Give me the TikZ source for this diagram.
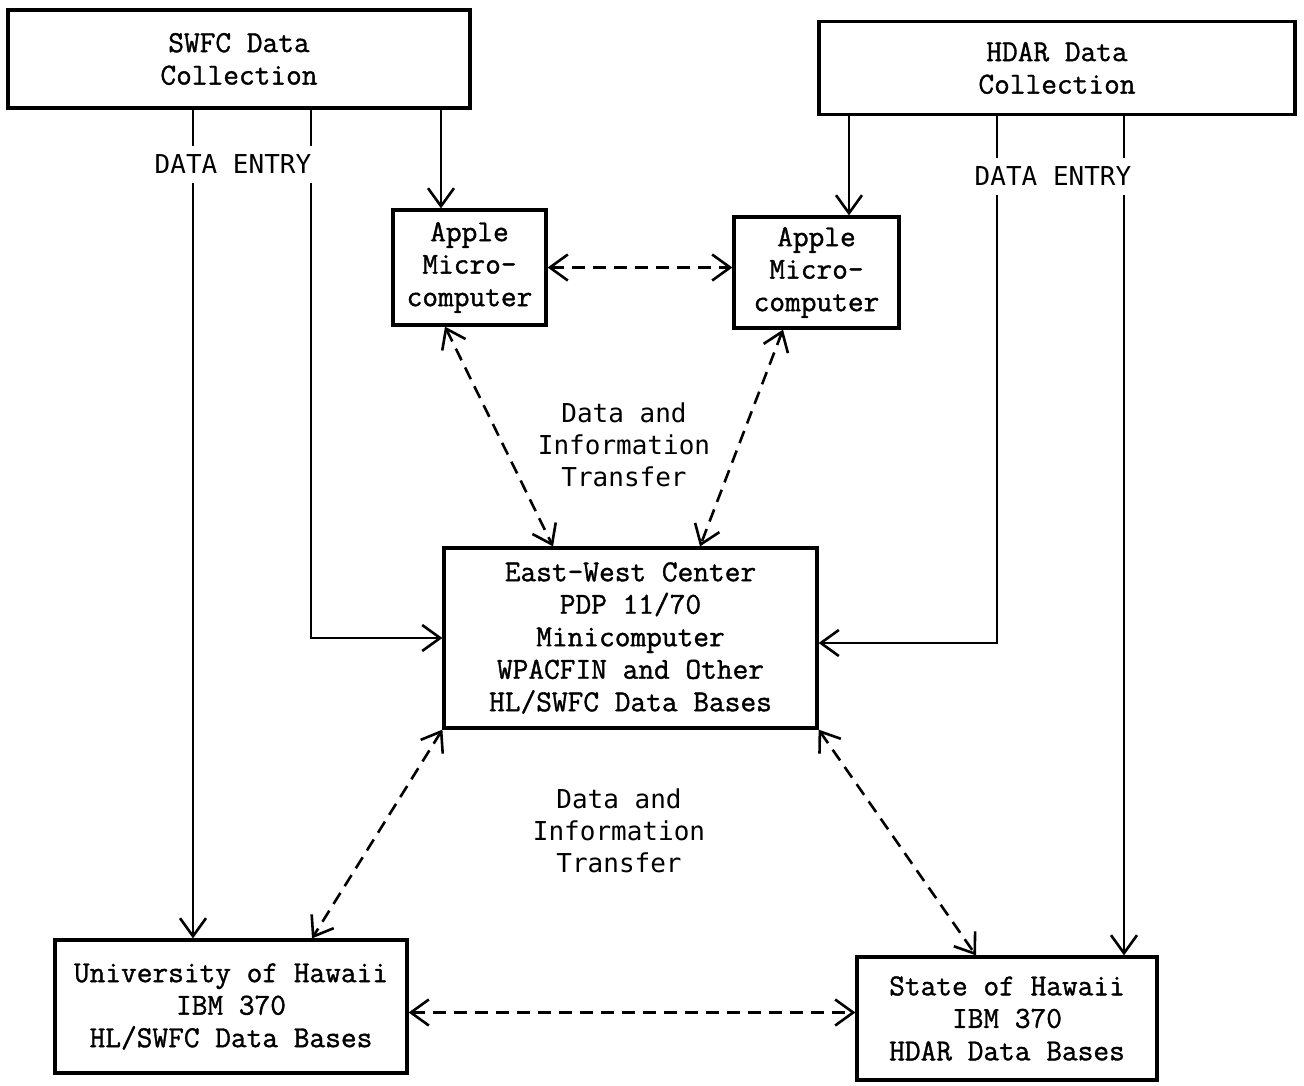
\documentclass[tikz,border=0pt]{standalone}
\usepackage{fontspec}
\newfontfamily\boxfam{Latin Modern Mono}[FakeBold=1.2]
\newfontfamily\lblfont{DejaVu Sans Mono}
\usetikzlibrary{arrows.meta}
\newcommand\bxfont{\boxfam\fontsize{30.5}{32.5}\selectfont}
\newcommand\lbfont{\lblfont\fontsize{26}{32}\selectfont}
\begin{document}
\begin{tikzpicture}[x=1pt,y=-1pt,
  barb/.tip={Straight Barb[length=18pt,width=26pt,line width=2.6pt]},
  box/.style={draw, line width=3.2pt, align=center, inner sep=0pt, font=\bxfont},
  lbl/.style={align=center, inner sep=0pt, font=\lbfont},
  entry/.style={font=\lbfont, fill=white, inner xsep=3pt, inner ysep=9pt, text height=19pt, text depth=0pt},
  arr/.style={-barb, line width=2.6pt},
  darr/.style={barb-barb, line width=2.6pt, dash pattern=on 13pt off 8pt}]
\useasboundingbox (0,0) rectangle (1304,1085);
% boxes
\node[box, minimum width=462pt, minimum height=98pt] (swfc) at (239,59) {SWFC Data\\Collection};
\node[box, minimum width=476pt, minimum height=93pt] (hdar) at (1057,68) {HDAR Data\\Collection};
\node[box, minimum width=153pt, minimum height=115pt] (a1) at (469.5,267.5) {Apple\\Micro-\\computer};
\node[box, minimum width=165pt, minimum height=111pt] (a2) at (816.5,272.5) {Apple\\Micro-\\computer};
\node[box, minimum width=373pt, minimum height=180pt] (ewc) at (630.5,638) {East-West Center\\PDP 11/70\\Minicomputer\\WPACFIN and Other\\HL/SWFC Data Bases};
\node[box, minimum width=352pt, minimum height=133pt] (univ) at (231,1006.5) {University of Hawaii\\IBM 370\\HL/SWFC Data Bases};
\node[box, minimum width=300pt, minimum height=123pt] (state) at (1007,1018.5) {State of Hawaii\\IBM 370\\HDAR Data Bases};
% guide coordinates for vertical connectors
\coordinate (s1) at (441,0);
\coordinate (h1) at (849,0);
\coordinate (sl) at (193,0);
\coordinate (sr) at (311,0);
\coordinate (hl) at (997,0);
\coordinate (hr) at (1124,0);
% solid connectors
\draw[arr] (swfc.south -| s1) -- (a1.north -| s1);
\draw[arr] (hdar.south -| h1) -- (a2.north -| h1);
\draw[arr] (swfc.south -| sl) -- (univ.north -| sl);
\draw[arr] (swfc.south -| sr) |- (ewc.west);
\draw[arr] (hdar.south -| hl) |- ([yshift=-5pt]ewc.east);
\draw[arr] (hdar.south -| hr) -- (state.north -| hr);
% dashed two-way connectors
\draw[darr] (a1.east) -- (a1.east -| a2.west);
\draw[darr] ([xshift=-24.5pt]a1.south) -- ([xshift=-77.5pt]ewc.north);
\draw[darr] ([xshift=-33.5pt]a2.south) -- ([xshift=69.5pt]ewc.north);
\draw[darr] (ewc.south west) -- ([xshift=81pt]univ.north);
\draw[darr] (ewc.south east) -- ([xshift=-31pt]state.north);
\draw[darr] ([yshift=-6pt]univ.east) -- ([yshift=-6pt]univ.east -| state.west);
% labels
\node[entry] (de1) at (233,164) {DATA ENTRY};
\node[entry] (de2) at (1053,176) {DATA ENTRY};
\node[lbl] (t1) at (624,445) {Data and\\Information\\Transfer};
\node[lbl] (t2) at (619,831) {Data and\\Information\\Transfer};
\end{tikzpicture}
\end{document}
